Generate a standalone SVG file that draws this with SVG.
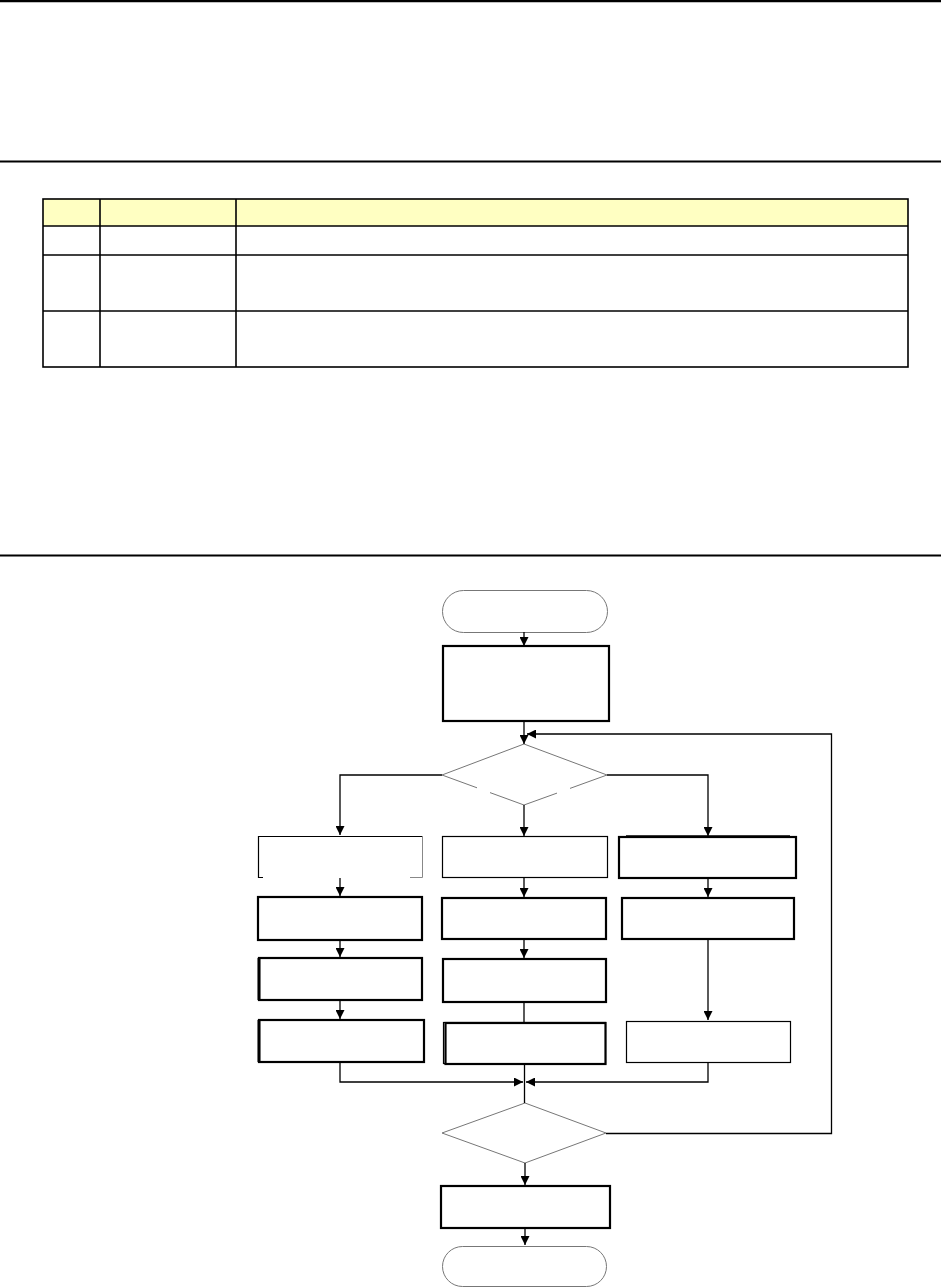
<svg xmlns="http://www.w3.org/2000/svg" width="941" height="1288" viewBox="0 0 941 1288">
<style>
.rule{stroke:#000;stroke-width:2.2}
.tb{fill:none;stroke:#000;stroke-width:1.6}
.hd{fill:#FFFFC2}
.thin{fill:#fff;stroke:#000;stroke-width:1.2}
.thick{fill:#fff;stroke:#000;stroke-width:2.2}
.term{fill:#fff;stroke:#777;stroke-width:1}
.dia{fill:none;stroke:#777;stroke-width:1}
.ln{fill:none;stroke:#000;stroke-width:1.3}
</style>
<defs>
<marker id="ah" viewBox="0 0 10 10" refX="10" refY="5" markerWidth="11" markerHeight="9" markerUnits="userSpaceOnUse" orient="auto">
<path d="M0,0 L10,5 L0,10 Z" fill="#000"/>
</marker>
</defs>
<rect width="941" height="1288" fill="#fff"/>
<g id="rules">
<line class="rule" x1="0" y1="1.2" x2="941" y2="1.2"/>
<line class="rule" x1="0" y1="161.5" x2="941" y2="161.5"/>
<line class="rule" x1="0" y1="555.5" x2="941" y2="555.5"/>
</g>
<g id="table">
<rect class="hd" x="43" y="199" width="865" height="27"/>
<rect class="tb" x="43" y="199" width="865" height="168"/>
<line class="tb" x1="43" y1="226" x2="908" y2="226"/>
<line class="tb" x1="43" y1="255" x2="908" y2="255"/>
<line class="tb" x1="43" y1="311" x2="908" y2="311"/>
<line class="tb" x1="100" y1="199" x2="100" y2="367"/>
<line class="tb" x1="236" y1="199" x2="236" y2="367"/>
</g>
<g id="start"><rect class="term" x="442.5" y="590.5" width="165" height="42" rx="21"/></g>
<g id="init"><rect class="thick" x="443" y="646" width="166" height="75"/></g>
<g id="decision1">
<path class="dia" d="M442,775 L524,744 L607,775 L570,788.4 M557,793.1 L524,805 L490,792.6 M477,787.8 L442,775"/>
</g>
<g id="l1"><path fill="#fff" stroke="none" d="M258,836 H422 V877 H258 Z"/><path fill="none" stroke="#000" stroke-width="1.2" d="M263,877.5 H258.5 V836.5 H422"/><path fill="none" stroke="#888" stroke-width="1" d="M422.5,836 V877.5 H410"/></g>
<g id="l2"><rect class="thick" x="258" y="897" width="164" height="43"/></g>
<g id="l3"><rect class="thick" x="259" y="958" width="163" height="42"/><line x1="259" y1="958" x2="259" y2="1000" stroke="#000" stroke-width="3"/></g>
<g id="l4"><rect class="thick" x="259" y="1020" width="165" height="42"/><line x1="259" y1="1020" x2="259" y2="1062" stroke="#000" stroke-width="3"/></g>
<g id="m1"><rect class="thin" x="442.5" y="836.5" width="165" height="41"/></g>
<g id="m2"><rect class="thick" x="442" y="898" width="164" height="41"/></g>
<g id="m3"><rect class="thick" x="443" y="959" width="163" height="43"/></g>
<g id="m4"><rect class="thin" x="443.5" y="1022.5" width="162" height="41"/><rect class="thick" x="445.5" y="1023" width="160" height="41"/></g>
<g id="r1"><rect class="thick" x="619" y="837" width="177" height="41"/><line x1="626" y1="836" x2="790" y2="836" stroke="#000" stroke-width="1.5"/></g>
<g id="r2"><rect class="thick" x="622" y="898" width="172" height="41"/></g>
<g id="r3"><rect class="thin" x="626.5" y="1021.5" width="164" height="41"/></g>
<g id="decision2"><path class="dia" d="M525,1103 L606,1133 L525,1163 L442,1133 Z"/></g>
<g id="finish"><rect class="thick" x="441" y="1186" width="169" height="42"/></g>
<g id="end"><rect class="term" x="442.5" y="1246.5" width="164" height="40" rx="20"/></g>
<g id="connectors">
<line class="ln" x1="524" y1="632" x2="524" y2="646" marker-end="url(#ah)"/>
<line class="ln" x1="524" y1="721" x2="524" y2="744" marker-end="url(#ah)"/>
<path class="ln" d="M606,1133.5 H831.5 V734 H527" marker-end="url(#ah)"/>
<path class="ln" d="M442,775 H340 V835" marker-end="url(#ah)"/>
<line class="ln" x1="524" y1="805" x2="524" y2="836" marker-end="url(#ah)"/>
<path class="ln" d="M607,775 H708 V836" marker-end="url(#ah)"/>
<line class="ln" x1="340" y1="878" x2="340" y2="896" marker-end="url(#ah)"/>
<line class="ln" x1="340" y1="940" x2="340" y2="957" marker-end="url(#ah)"/>
<line class="ln" x1="340" y1="1000" x2="340" y2="1019" marker-end="url(#ah)"/>
<line class="ln" x1="524" y1="877" x2="524" y2="897" marker-end="url(#ah)"/>
<line class="ln" x1="524" y1="939" x2="524" y2="958" marker-end="url(#ah)"/>
<line class="ln" x1="524" y1="1002" x2="524" y2="1022"/>
<line class="ln" x1="708" y1="878" x2="708" y2="897" marker-end="url(#ah)"/>
<line class="ln" x1="708" y1="939" x2="708" y2="1020" marker-end="url(#ah)"/>
<path class="ln" d="M340,1062 V1082 H523" marker-end="url(#ah)"/>
<path class="ln" d="M708,1062 V1082 H526" marker-end="url(#ah)"/>
<line class="ln" x1="524.5" y1="1064" x2="524.5" y2="1103"/>
<line class="ln" x1="525" y1="1163" x2="525" y2="1185" marker-end="url(#ah)"/>
<line class="ln" x1="525" y1="1228" x2="525" y2="1245" marker-end="url(#ah)"/>
</g>
</svg>
